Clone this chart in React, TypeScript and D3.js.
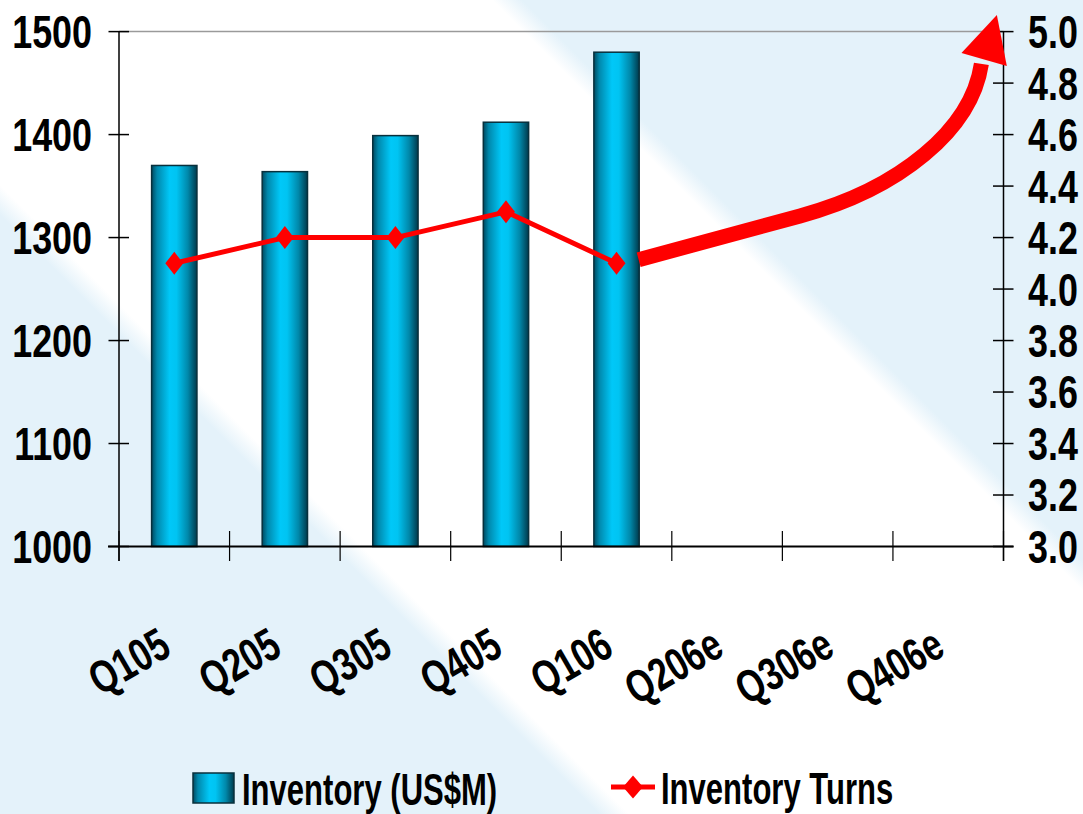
import React from "react";
import * as d3 from "d3";

const categories = ["Q105", "Q205", "Q305", "Q405", "Q106", "Q206e", "Q306e", "Q406e"];
const inventory = [1370, 1364, 1399, 1412, 1480];
const turns = [4.1, 4.2, 4.2, 4.3, 4.1];
const leftTicks = [1000, 1100, 1200, 1300, 1400, 1500];
const rightTicks = [3.0, 3.2, 3.4, 3.6, 3.8, 4.0, 4.2, 4.4, 4.6, 4.8, 5.0];
// annotation arrow: [category-index position, turns value]
const arrowShaft: [number, number][] = [
  [4.70, 4.114],
  [6.16, 4.284],
  [7.06, 4.389],
  [7.71, 4.618],
  [7.80, 4.875],
];
const arrowHead: [number, number][] = [
  [7.62, 4.917],
  [7.94, 5.064],
  [8.03, 4.866],
];

const W = 1083;
const H = 814;
const FONT = "'Liberation Sans', Arial, Helvetica, sans-serif";

export default function App() {
  const x0 = 119;
  const x1 = 1003.5;
  const yTop = 31.6;
  const yBot = 546.5;

  const x = d3.scaleBand<string>().domain(categories).range([x0, x1]).paddingInner(0).paddingOuter(0);
  const xi = d3.scaleLinear().domain([0, categories.length]).range([x0, x1]);
  const yL = d3.scaleLinear().domain([1000, 1500]).range([yBot, yTop]);
  const yR = d3.scaleLinear().domain([3, 5]).range([yBot, yTop]);
  const bw = x.bandwidth();
  const barW = bw * 0.41;

  const lineGen = d3
    .line<number>()
    .x((_, i) => (x(categories[i]) as number) + bw / 2)
    .y((d) => yR(d));

  const shaftPts = arrowShaft.map(([c, v]) => [xi(c), yR(v)] as [number, number]);
  const shaftPath =
    `M${shaftPts[0][0]},${shaftPts[0][1]} L${shaftPts[1][0]},${shaftPts[1][1]} ` +
    `C${shaftPts[2][0]},${shaftPts[2][1]} ${shaftPts[3][0]},${shaftPts[3][1]} ${shaftPts[4][0]},${shaftPts[4][1]}`;
  const headPts = arrowHead.map(([c, v]) => [xi(c), yR(v)] as [number, number]);
  const headPath = d3.line()(headPts) + "Z";

  // background diagonal bands, parameter s = x - y
  const sMin = -H;
  const sMax = W;
  const span = sMax - sMin;
  const t = (s: number) => (s - sMin) / span;
  const diamond = (cx: number, cy: number, w = 9, h = 11.5) =>
    `M${cx},${cy - h} L${cx + w},${cy} L${cx},${cy + h} L${cx - w},${cy} Z`;

  const numFs = 46;
  const numScale = 0.78;
  const capH = 0.716 * numFs;

  return (
    <svg width={W} height={H} style={{ position: "absolute", left: 0, top: 0, display: "block" }}>
      <defs>
        <linearGradient
          id="bg"
          gradientUnits="userSpaceOnUse"
          x1={sMin / 2}
          y1={-sMin / 2}
          x2={sMax / 2}
          y2={-sMax / 2}
        >
          <stop offset={0} stopColor="#e4f2fa" />
          <stop offset={t(-215)} stopColor="#e4f2fa" />
          <stop offset={t(-185)} stopColor="#ffffff" />
          <stop offset={t(492)} stopColor="#ffffff" />
          <stop offset={t(522)} stopColor="#e4f2fa" />
          <stop offset={1} stopColor="#e4f2fa" />
        </linearGradient>
        <linearGradient id="bar" x1="0" y1="0" x2="1" y2="0">
          <stop offset="0" stopColor="#004a60" />
          <stop offset="0.12" stopColor="#0088ac" />
          <stop offset="0.4" stopColor="#00c8f8" />
          <stop offset="0.55" stopColor="#00c4f2" />
          <stop offset="0.8" stopColor="#0088aa" />
          <stop offset="1" stopColor="#003a4c" />
        </linearGradient>
      </defs>
      <rect x={0} y={0} width={W} height={H} fill="url(#bg)" />

      {/* top border */}
      <line x1={x0} x2={x1} y1={yTop} y2={yTop} stroke="#9a9a9a" strokeWidth={1.5} />

      {/* bars */}
      {inventory.map((v, i) => {
        const cx = (x(categories[i]) as number) + bw / 2;
        return (
          <rect
            key={i}
            x={cx - barW / 2}
            y={yL(v)}
            width={barW}
            height={yBot - yL(v)}
            fill="url(#bar)"
            stroke="#08303c"
            strokeWidth={1.5}
          />
        );
      })}

      {/* axes */}
      <line x1={x0} x2={x0} y1={yTop} y2={561} stroke="#000" strokeWidth={1.5} />
      <line x1={x1} x2={x1} y1={yTop} y2={561} stroke="#000" strokeWidth={1.5} />
      <line x1={108} x2={1013.5} y1={yBot} y2={yBot} stroke="#000" strokeWidth={2} />
      {leftTicks.map((v) => (
        <g key={"l" + v}>
          <line x1={x0 - 10.5} x2={x0 + 10} y1={yL(v)} y2={yL(v)} stroke="#000" strokeWidth={1.5} />
          <g transform={`translate(92,${yL(v) + capH / 2}) scale(${numScale},1)`}>
            <text textAnchor="end" fontFamily={FONT} fontWeight="bold" fontSize={numFs} fill="#000">
              {v}
            </text>
          </g>
        </g>
      ))}
      {rightTicks.map((v) => (
        <g key={"r" + v}>
          <line x1={x1 - 10.5} x2={x1 + 10} y1={yR(v)} y2={yR(v)} stroke="#000" strokeWidth={1.5} />
          <g transform={`translate(1028,${yR(v) + capH / 2}) scale(${numScale},1)`}>
            <text textAnchor="start" fontFamily={FONT} fontWeight="bold" fontSize={numFs} fill="#000">
              {v.toFixed(1)}
            </text>
          </g>
        </g>
      ))}
      {d3.range(categories.length + 1).map((i) => (
        <line key={"c" + i} x1={xi(i)} x2={xi(i)} y1={531} y2={561} stroke="#000" strokeWidth={1.2} />
      ))}
      {categories.map((c) => {
        const cx = (x(c) as number) + bw / 2;
        return (
          <g key={c} transform={`translate(${cx - 1},654) rotate(-30) scale(0.75,1)`}>
            <text textAnchor="end" fontFamily={FONT} fontWeight="bold" fontSize={46} fill="#000">
              {c}
            </text>
          </g>
        );
      })}

      {/* turns line */}
      <path d={lineGen(turns) as string} fill="none" stroke="#ff0000" strokeWidth={5} strokeLinejoin="round" />
      {turns.map((v, i) => (
        <path key={"m" + i} d={diamond((x(categories[i]) as number) + bw / 2, yR(v))} fill="#ff0000" />
      ))}

      {/* arrow annotation */}
      <path d={shaftPath} fill="none" stroke="#ff0000" strokeWidth={15} strokeLinejoin="round" />
      <path d={headPath} fill="#ff0000" />

      {/* legend */}
      <rect x={193} y={773} width={41} height={30} fill="url(#bar)" stroke="#08303c" strokeWidth={1.5} />
      <g transform={`translate(242,805) scale(0.69,1)`}>
        <text fontFamily={FONT} fontWeight="bold" fontSize={45} fill="#000">
          Inventory (US$M)
        </text>
      </g>
      <line x1={611} x2={655} y1={787} y2={787} stroke="#ff0000" strokeWidth={5} />
      <path d={diamond(633, 787, 10, 11.5)} fill="#ff0000" />
      <g transform={`translate(661,804) scale(0.69,1)`}>
        <text fontFamily={FONT} fontWeight="bold" fontSize={45} fill="#000">
          Inventory Turns
        </text>
      </g>
    </svg>
  );
}
